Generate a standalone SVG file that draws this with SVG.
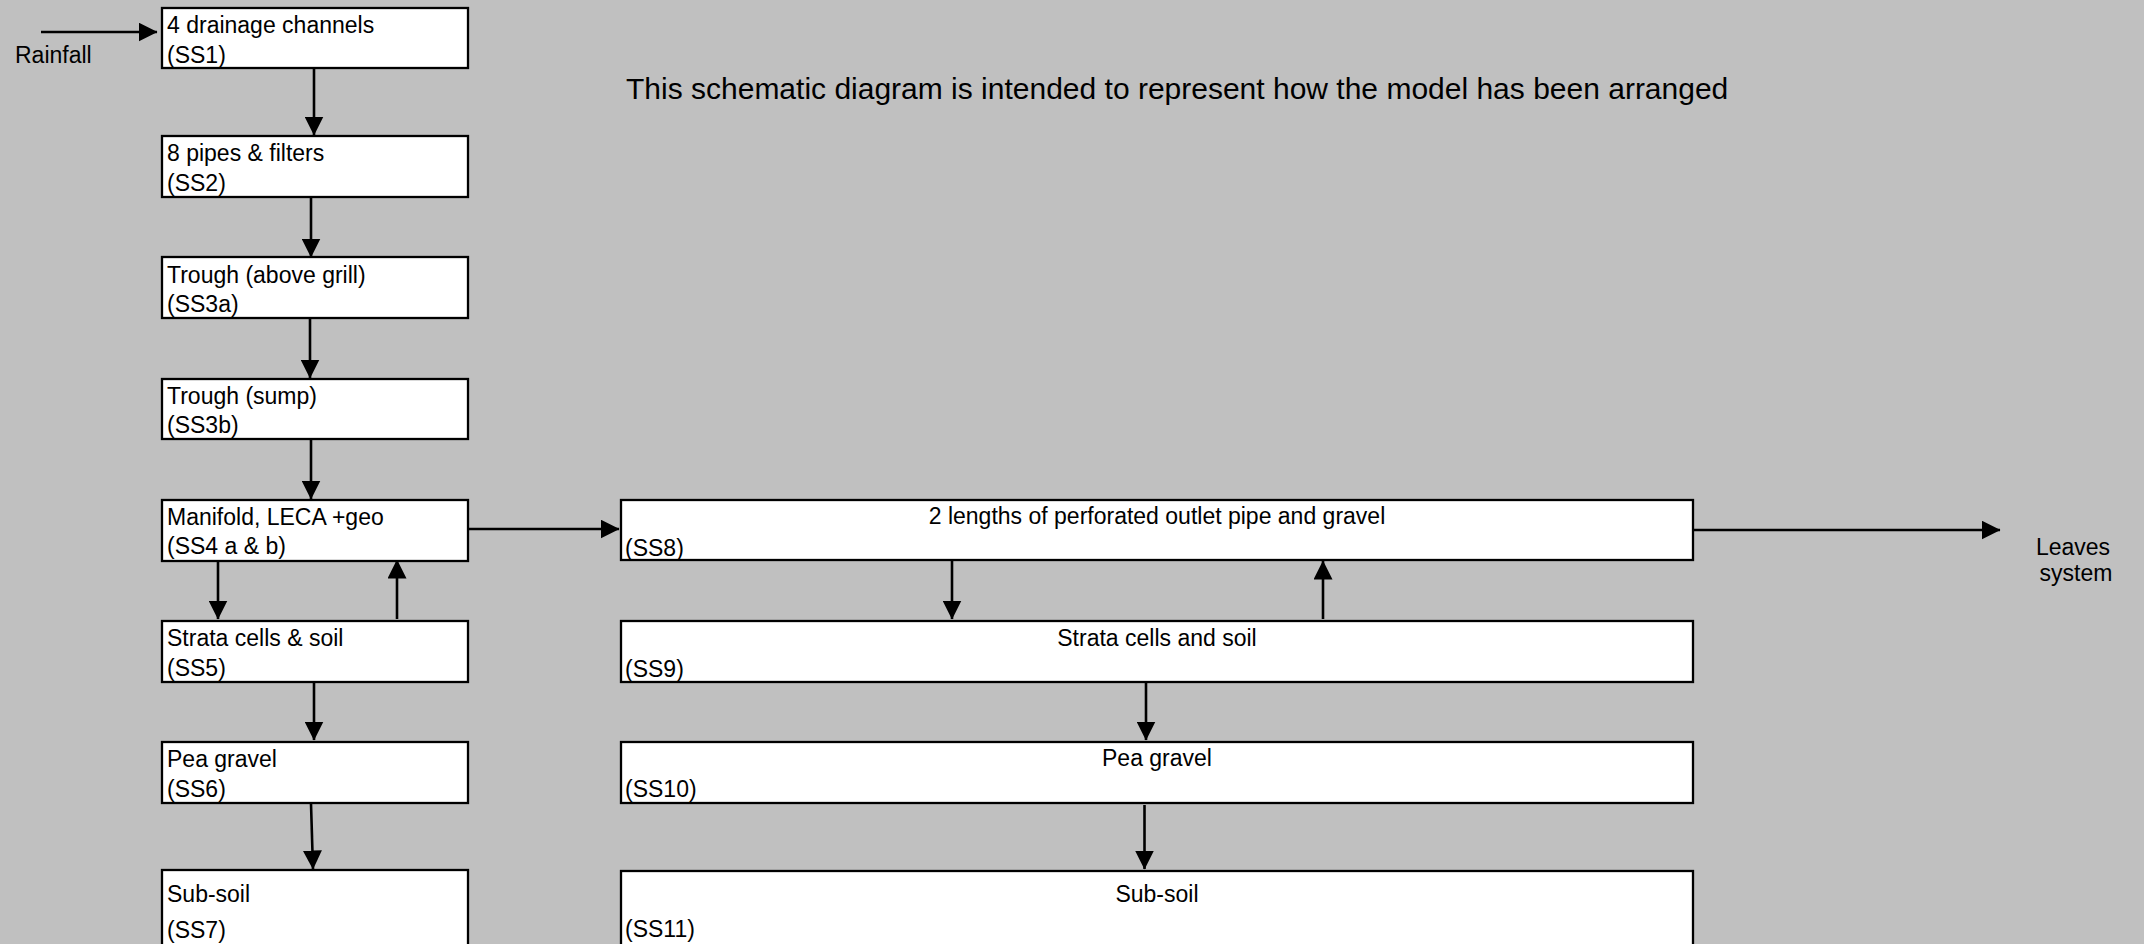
<svg xmlns="http://www.w3.org/2000/svg" width="2144" height="944" viewBox="0 0 2144 944">
<style>
.box{fill:#fff;stroke:#000;stroke-width:2.3}
.t{font-family:"Liberation Sans",Arial,sans-serif;font-size:23px;fill:#000}
.c{text-anchor:middle}
.ln{stroke:#000;stroke-width:2.6;fill:none;marker-end:url(#ah)}
</style>
<defs>
<marker id="ah" markerUnits="userSpaceOnUse" markerWidth="19" markerHeight="19" refX="18.5" refY="9.5" orient="auto">
<path d="M0,0 L19,9.5 L0,19 z" fill="#000"/>
</marker>
</defs>
<rect width="2144" height="944" fill="#c0c0c0"/>
<text class="t" x="626" y="99" style="font-size:30px">This schematic diagram is intended to represent how the model has been arranged</text>
<text class="t" x="15" y="63">Rainfall</text>
<text class="t c" x="2073" y="555">Leaves</text>
<text class="t c" x="2076" y="581">system</text>

<g id="SS1"><rect class="box" x="162" y="8" width="306" height="60"/><text class="t" x="167" y="33">4 drainage channels</text><text class="t" x="167" y="63">(SS1)</text></g>
<g id="SS2"><rect class="box" x="162" y="136" width="306" height="61"/><text class="t" x="167" y="161">8 pipes &amp; filters</text><text class="t" x="167" y="191">(SS2)</text></g>
<g id="SS3a"><rect class="box" x="162" y="257" width="306" height="61"/><text class="t" x="167" y="283">Trough (above grill)</text><text class="t" x="167" y="312">(SS3a)</text></g>
<g id="SS3b"><rect class="box" x="162" y="379" width="306" height="60"/><text class="t" x="167" y="404">Trough (sump)</text><text class="t" x="167" y="433">(SS3b)</text></g>
<g id="SS4"><rect class="box" x="162" y="500" width="306" height="61"/><text class="t" x="167" y="525">Manifold, LECA +geo</text><text class="t" x="167" y="554">(SS4 a &amp; b)</text></g>
<g id="SS5"><rect class="box" x="162" y="621" width="306" height="61"/><text class="t" x="167" y="646">Strata cells &amp; soil</text><text class="t" x="167" y="676">(SS5)</text></g>
<g id="SS6"><rect class="box" x="162" y="742" width="306" height="61"/><text class="t" x="167" y="767">Pea gravel</text><text class="t" x="167" y="797">(SS6)</text></g>
<g id="SS7"><rect class="box" x="162" y="870" width="306" height="110"/><text class="t" x="167" y="902">Sub-soil</text><text class="t" x="167" y="938">(SS7)</text></g>

<g id="SS8"><rect class="box" x="621" y="500" width="1072" height="60"/><text class="t c" x="1157" y="524">2 lengths of perforated outlet pipe and gravel</text><text class="t" x="625" y="556">(SS8)</text></g>
<g id="SS9"><rect class="box" x="621" y="621" width="1072" height="61"/><text class="t c" x="1157" y="646">Strata cells and soil</text><text class="t" x="625" y="677">(SS9)</text></g>
<g id="SS10"><rect class="box" x="621" y="742" width="1072" height="61"/><text class="t c" x="1157" y="766">Pea gravel</text><text class="t" x="625" y="797">(SS10)</text></g>
<g id="SS11"><rect class="box" x="621" y="871" width="1072" height="110"/><text class="t c" x="1157" y="902">Sub-soil</text><text class="t" x="625" y="937">(SS11)</text></g>

<g id="connectors">
<line class="ln" x1="41" y1="32" x2="157" y2="32"/>
<line class="ln" x1="314" y1="69" x2="314" y2="135"/>
<line class="ln" x1="311" y1="198" x2="311" y2="257"/>
<line class="ln" x1="310" y1="319" x2="310" y2="378"/>
<line class="ln" x1="311" y1="440" x2="311" y2="499"/>
<line class="ln" x1="218" y1="562" x2="218" y2="619"/>
<line class="ln" x1="397" y1="619" x2="397" y2="560"/>
<line class="ln" x1="314" y1="683" x2="314" y2="740"/>
<line class="ln" x1="311" y1="804" x2="313" y2="869"/>
<line class="ln" x1="469" y1="529" x2="619" y2="529"/>
<line class="ln" x1="952" y1="561" x2="952" y2="619"/>
<line class="ln" x1="1323" y1="619" x2="1323" y2="561"/>
<line class="ln" x1="1146" y1="683" x2="1146" y2="740"/>
<line class="ln" x1="1144.5" y1="805" x2="1144.5" y2="869"/>
<line class="ln" x1="1694" y1="530" x2="2000" y2="530"/>
</g>
</svg>
